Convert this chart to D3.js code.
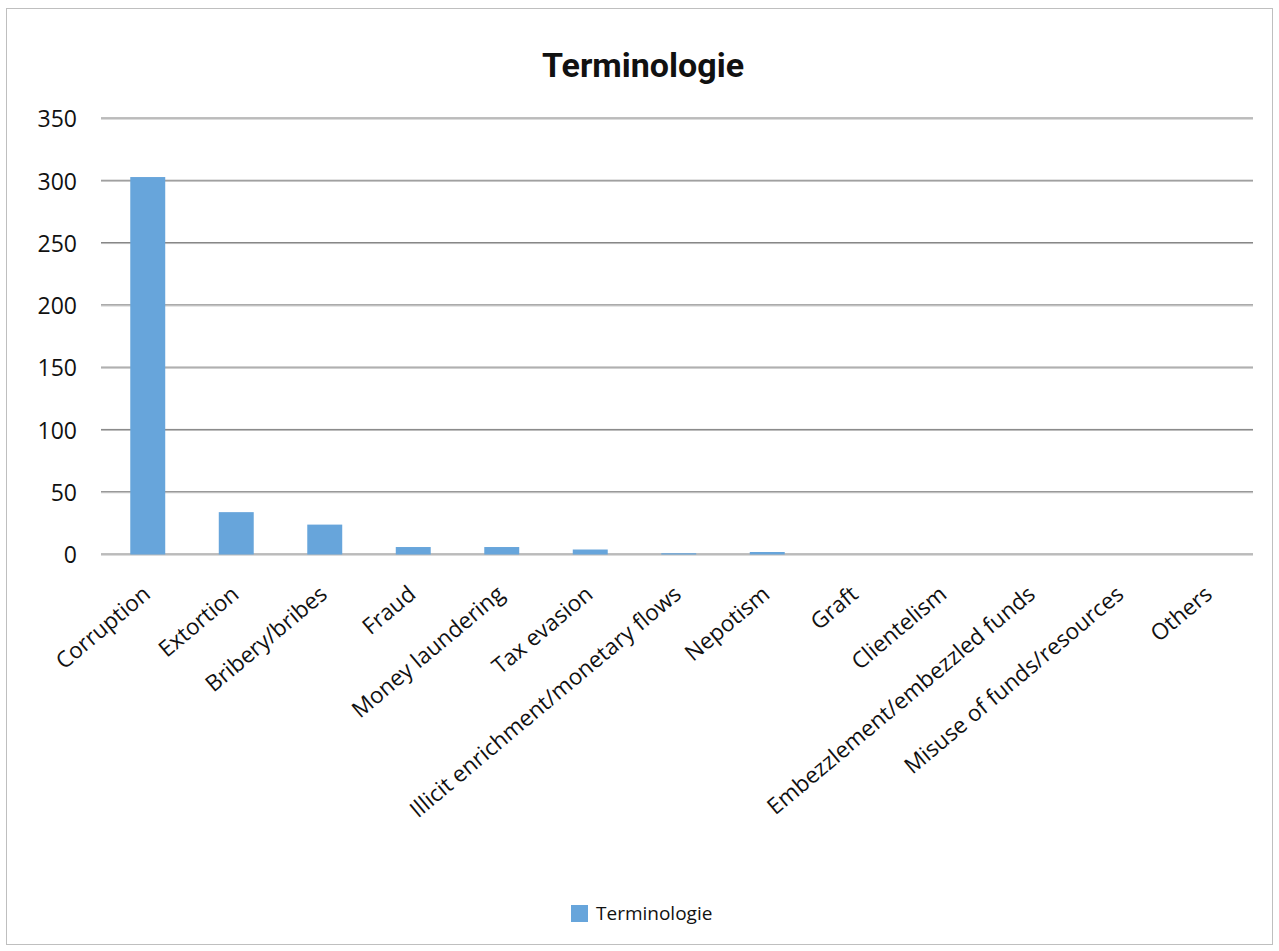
<!DOCTYPE html>
<html>
<head>
<meta charset="utf-8">
<script src="https://cdn.jsdelivr.net/npm/d3@7"></script>
<style>
  html, body { margin: 0; padding: 0; background: #fff; }
  svg { display: block; }
</style>
</head>
<body>
<svg id="chart" width="1279" height="951"></svg>
<script>
// Terms used, and how often each one appears
const categories = [
  "Corruption", "Extortion", "Bribery/bribes", "Fraud", "Money laundering",
  "Tax evasion", "Illicit enrichment/monetary flows", "Nepotism", "Graft",
  "Clientelism", "Embezzlement/embezzled funds", "Misuse of funds/resources", "Others"
];
const counts = [303, 34, 24, 6, 6, 4, 1, 2, 0, 0, 0, 0, 0];
const yTicks = [0, 50, 100, 150, 200, 250, 300, 350];
const seriesName = "Terminologie";

const svg = d3.select("#chart");
const W = 1279, H = 951;
const plot = { left: 101, right: 1253, top: 118.5, bottom: 554.5 };
const labelFont = "'Open Sans', 'Noto Sans', sans-serif";

// outer frame
svg.append("rect")
  .attr("x", 6.5).attr("y", 8.5)
  .attr("width", W - 13).attr("height", H - 15)
  .attr("fill", "#fff").attr("stroke", "#bfbfbf").attr("stroke-width", 1);

const x = d3.scaleBand().domain(categories).range([plot.left + 2.5, plot.right + 1]).padding(0);
const y = d3.scaleLinear().domain([0, 350]).range([plot.bottom, plot.top]);

// title
svg.append("text")
  .attr("x", 643).attr("y", 77)
  .attr("text-anchor", "middle")
  .attr("font-family", "Roboto, 'Noto Sans', sans-serif")
  .attr("font-weight", "bold")
  .attr("font-size", 34)
  .attr("fill", "#111")
  .text(seriesName);

// gridlines
const grid = svg.append("g");
yTicks.forEach(t => {
  grid.append("line")
    .attr("x1", plot.left).attr("x2", plot.right)
    .attr("y1", y(t) - 0.5).attr("y2", y(t) - 0.5)
    .attr("stroke", "#7f7f7f").attr("stroke-width", 1);
  grid.append("line")
    .attr("x1", plot.left).attr("x2", plot.right)
    .attr("y1", y(t) + 0.5).attr("y2", y(t) + 0.5)
    .attr("stroke", "#b8b8b8").attr("stroke-width", 1);
});

// y axis labels
const yAxis = d3.axisLeft(y).tickValues(yTicks).tickSize(0).tickPadding(0);
const yg = svg.append("g").attr("transform", `translate(77,0)`).call(yAxis);
yg.select(".domain").remove();
yg.selectAll("text")
  .attr("font-family", labelFont)
  .attr("font-size", 23)
  .attr("fill", "#111")
  .attr("dy", "0.36em");

// bars
const barFrac = 0.395;
svg.append("g").selectAll("rect")
  .data(categories.map((c, i) => ({ c, v: counts[i] })))
  .join("rect")
  .attr("x", d => x(d.c) + x.bandwidth() * (1 - barFrac) / 2)
  .attr("width", x.bandwidth() * barFrac)
  .attr("y", d => y(d.v))
  .attr("height", d => y(0) - y(d.v))
  .attr("fill", "#67a5db");

// category labels, rotated so each one ends just under its bar
const xAxis = d3.axisBottom(x).tickSize(0).tickPadding(0);
const xg = svg.append("g").attr("transform", `translate(0,${plot.bottom})`).call(xAxis);
xg.select(".domain").remove();
xg.selectAll("text")
  .attr("font-family", labelFont)
  .attr("font-size", 22.5)
  .attr("fill", "#111")
  .attr("text-anchor", "end")
  .attr("y", 0)
  .attr("dy", 0)
  .attr("transform", "translate(4,42) rotate(-40)");

// legend
const lg = svg.append("g").attr("transform", "translate(571,905)");
lg.append("rect").attr("width", 17).attr("height", 17).attr("fill", "#67a5db");
lg.append("text")
  .attr("x", 25).attr("y", 8.5)
  .attr("dy", "0.36em")
  .attr("font-family", labelFont)
  .attr("font-size", 19)
  .attr("fill", "#111")
  .text(seriesName);
</script>
</body>
</html>
